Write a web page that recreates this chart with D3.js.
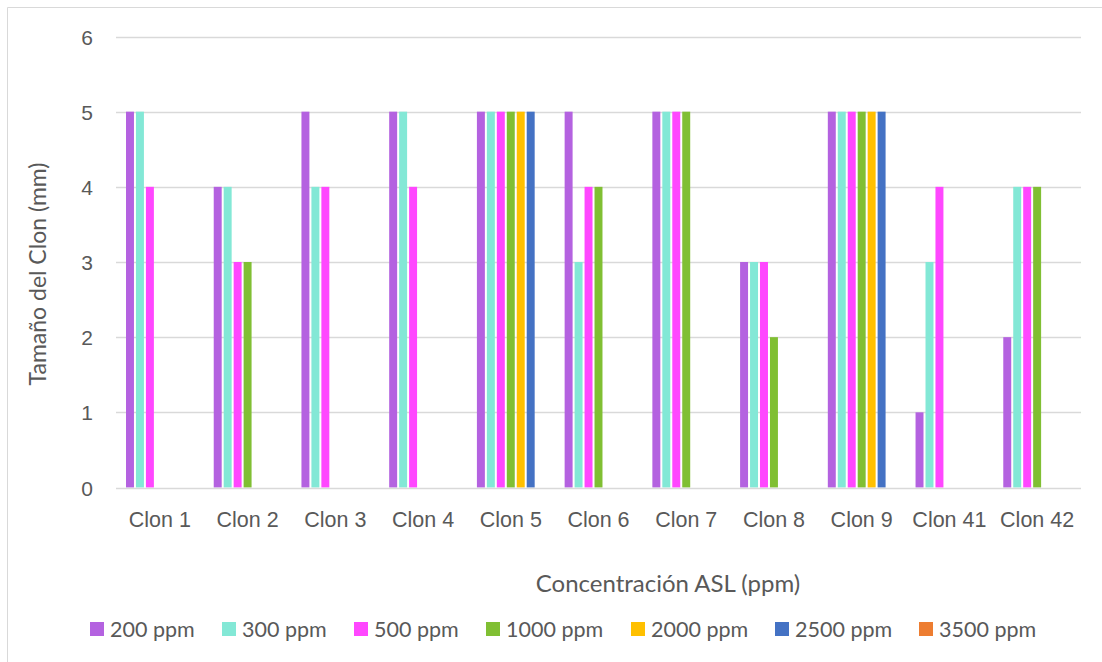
<!DOCTYPE html>
<html>
<head>
<meta charset="utf-8">
<script src="https://cdn.jsdelivr.net/npm/d3@7"></script>
<style>
  html, body { margin: 0; padding: 0; background: #fff; }
  svg { display: block; font-family: Lato, "Open Sans", sans-serif; }
</style>
</head>
<body>
<svg id="chart" width="1102" height="662"></svg>
<script>
// Clone categories and the ASL concentrations tested
const categories = ["Clon 1", "Clon 2", "Clon 3", "Clon 4", "Clon 5", "Clon 6", "Clon 7", "Clon 8", "Clon 9", "Clon 41", "Clon 42"];
const seriesNames = ["200 ppm", "300 ppm", "500 ppm", "1000 ppm", "2000 ppm", "2500 ppm", "3500 ppm"];
const seriesColors = ["#b462e0", "#83e8d6", "#ff47ff", "#80bf33", "#ffc000", "#4472c4", "#ed7d31"];

// Clone size (mm) per concentration, one value per clone
const v200  = [5, 4, 5, 5, 5, 5, 5, 3, 5, 1, 2];
const v300  = [5, 4, 4, 5, 5, 3, 5, 3, 5, 3, 4];
const v500  = [4, 3, 4, 4, 5, 4, 5, 3, 5, 4, 4];
const v1000 = [0, 3, 0, 0, 5, 4, 5, 2, 5, 0, 4];
const v2000 = [0, 0, 0, 0, 5, 0, 0, 0, 5, 0, 0];
const v2500 = [0, 0, 0, 0, 5, 0, 0, 0, 5, 0, 0];
const v3500 = [0, 0, 0, 0, 0, 0, 0, 0, 0, 0, 0];
const seriesValues = [v200, v300, v500, v1000, v2000, v2500, v3500];

const yTicks = [0, 1, 2, 3, 4, 5, 6];

const svg = d3.select("#chart");
const textColor = "#595959";
const gridColor = "#d9d9d9";

// outer frame (left and top edges)
svg.append("path")
  .attr("d", "M7.5,662 V7.5 H1102")
  .attr("fill", "none")
  .attr("stroke", gridColor)
  .attr("stroke-width", 1);

const plot = { left: 116, right: 1081, top: 36.5, bottom: 487.5 };

const x = d3.scaleBand().domain(categories).range([plot.left, plot.right]).paddingInner(0).paddingOuter(0);
const xs = d3.scaleBand().domain(seriesNames).range([9, x.bandwidth() - 9]);
const y = d3.scaleLinear().domain([0, 6]).range([plot.bottom, plot.top]);

// horizontal gridlines
svg.append("g")
  .selectAll("line")
  .data(yTicks.filter(d => d > 0))
  .join("line")
  .attr("x1", plot.left).attr("x2", plot.right)
  .attr("y1", d => Math.round(y(d)) + 0.5).attr("y2", d => Math.round(y(d)) + 0.5)
  .attr("stroke", gridColor).attr("stroke-width", 1.3);

// y tick labels
const yAxis = d3.axisLeft(y).tickValues(yTicks).tickSize(0).tickPadding(0).tickFormat(d3.format("d"));
const gy = svg.append("g").attr("transform", `translate(${plot.left - 23},0)`).call(yAxis);
gy.select(".domain").remove();
gy.selectAll("text").attr("fill", textColor).style("font-size", "21px").attr("dy", "0.36em");

// bars
const groups = svg.append("g")
  .selectAll("g")
  .data(categories)
  .join("g")
  .attr("transform", d => `translate(${x(d)},0)`);

groups.selectAll("rect")
  .data((c, ci) => seriesNames.map((s, si) => ({ s, si, v: seriesValues[si][ci] })))
  .join("rect")
  .filter(d => d.v > 0)
  .attr("x", d => xs(d.s) + 1)
  .attr("width", xs.bandwidth() - 2)
  .attr("y", d => y(d.v))
  .attr("height", d => y(0) - y(d.v))
  .attr("fill", d => seriesColors[d.si]);

// baseline
svg.append("line")
  .attr("x1", plot.left).attr("x2", plot.right)
  .attr("y1", Math.round(y(0)) + 0.5).attr("y2", Math.round(y(0)) + 0.5)
  .attr("stroke", gridColor).attr("stroke-width", 1.3);

// category labels
const xAxis = d3.axisBottom(x).tickSize(0).tickPadding(0);
const gx = svg.append("g").attr("transform", `translate(0,${plot.bottom + 32})`).call(xAxis);
gx.select(".domain").remove();
gx.selectAll("text").attr("fill", textColor).style("font-size", "21.5px").attr("dy", "0.36em");

// axis titles
svg.append("text")
  .attr("x", 668).attr("y", 583)
  .attr("text-anchor", "middle").attr("dy", "0.36em")
  .attr("fill", textColor).style("font-size", "24px")
  .text("Concentración ASL (ppm)");

svg.append("text")
  .attr("transform", "translate(38,274) rotate(-90)")
  .attr("text-anchor", "middle").attr("dy", "0.36em")
  .attr("fill", textColor).style("font-size", "23px")
  .text("Tamaño del Clon (mm)");

// legend
const legendX = [90, 222, 354, 486, 631, 775, 919];
const legend = svg.append("g")
  .selectAll("g")
  .data(seriesNames)
  .join("g")
  .attr("transform", (d, i) => `translate(${legendX[i]},629)`);
legend.append("rect")
  .attr("x", 0).attr("y", -7).attr("width", 14).attr("height", 14)
  .attr("fill", (d, i) => seriesColors[i]);
legend.append("text")
  .attr("x", 20).attr("y", 0).attr("dy", "0.36em")
  .attr("fill", textColor).style("font-size", "21.5px")
  .text(d => d);
</script>
</body>
</html>
